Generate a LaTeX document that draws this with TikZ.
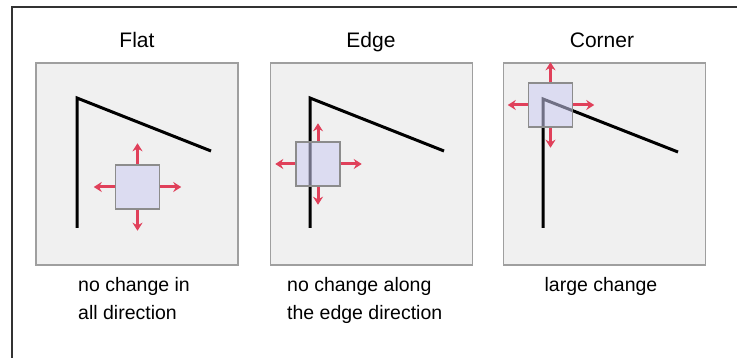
\documentclass[tikz,border=0pt]{standalone}
\usepackage{fontspec}
\setmainfont{Liberation Sans}
\usetikzlibrary{arrows.meta}
\definecolor{pullred}{HTML}{E0405A}
\definecolor{winblue}{HTML}{CDCDF2}
\definecolor{panelfill}{HTML}{F0F0F0}
\begin{document}
\begin{tikzpicture}[x=1pt, y=-1pt,
  panel/.style={draw=gray!75, line width=1.8pt, fill=panelfill, minimum width=202pt, minimum height=202pt, inner sep=0pt},
  window/.style={draw=gray!90, line width=1.5pt, fill=winblue, fill opacity=0.55, minimum size=44pt, inner sep=0pt},
  pull/.style={-{Stealth[length=8pt, width=10pt]}, line width=3pt, draw=pullred},
  outline/.style={line width=3pt, black, line join=miter},
  title/.style={font=\fontsize{21}{24}\selectfont, anchor=base},
  caption/.style={font=\fontsize{19.5}{28}\selectfont, align=left, anchor=north west, inner sep=0pt}]
  \useasboundingbox (0,0) rectangle (737,358);

  % Outer frame
  \draw[line width=1.5pt, black!80] (12,358) -- (12,7) -- (737,7);

  % Panels
  \node[panel] (flat) at (137,164) {};
  \node[panel] (edge) at (371.5,164) {};
  \node[panel] (corner) at (604.5,164) {};

  % Titles
  \node[title] (flat title) at (137,48) {Flat};
  \node[title] (edge title) at (371,48) {Edge};
  \node[title] (corner title) at (602,48) {Corner};

  % Corner shapes
  \draw[outline] (77,228) -- (77,98) -- (211,151);
  \draw[outline] (310,228) -- (310,98) -- (444,151);
  \draw[outline] (543,228) -- (543,99) -- (678,152);

  % Windows
  \node[window] (flat win) at (137.5,187) {};
  \node[window] (edge win) at (318,164) {};
  \node[window] (corner win) at (550.5,105) {};

  % Shifts of the windows
  \draw[pull] (flat win.north) -- ++(0,-21);
  \draw[pull] (flat win.south) -- ++(0,21);
  \draw[pull] (flat win.west) -- ++(-21,0);
  \draw[pull] (flat win.east) -- ++(21,0);
  \draw[pull] (edge win.north) -- ++(0,-18);
  \draw[pull] (edge win.south) -- ++(0,18);
  \draw[pull] (edge win.west) -- ++(-20,0);
  \draw[pull] (edge win.east) -- ++(21,0);
  \draw[pull] (corner win.north) -- ++(0,-20);
  \draw[pull] (corner win.south) -- ++(0,20);
  \draw[pull] (corner win.west) -- ++(-20,0);
  \draw[pull] (corner win.east) -- ++(21,0);

  % Captions
  \node[caption] (flat note) at (78,277) {no change in\\all direction};
  \node[caption] (edge note) at (287,277) {no change along\\the edge direction};
  \node[caption, anchor=north] (corner note) at (601,277) {large change};
\end{tikzpicture}
\end{document}
